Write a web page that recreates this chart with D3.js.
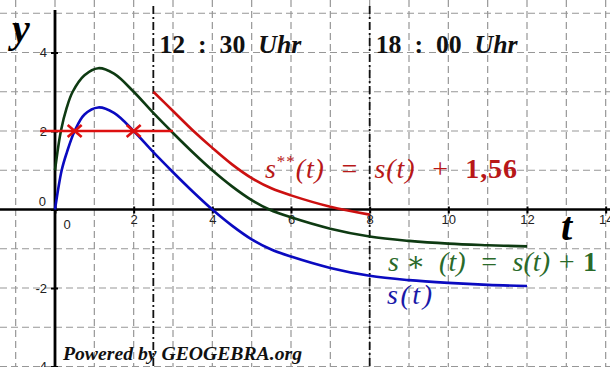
<!DOCTYPE html>
<meta charset="utf-8">
<script src="https://d3js.org/d3.v7.min.js"></script>
<style>
  body { margin: 0; background: #fff; }
  .grid line { stroke: #979797; stroke-width: 1.2; stroke-dasharray: 7,4; }
  .tick text { font-family: "Liberation Sans", Arial, sans-serif; font-size: 13px; fill: #222; }
  .math { font-family: "Liberation Serif", "DejaVu Serif", serif; font-style: italic; }
</style>
<body></body>
<script>
// values
var sT   = [0, 0.17, 0.3, 0.5, 0.75, 1.1, 1.5, 2, 2.5, 3, 3.5, 4, 4.5, 5, 5.5, 6, 7, 8, 9, 10, 11, 12];
var sVal = [0, 1.0, 1.45, 2.0, 2.42, 2.6, 2.46, 2.0, 1.46, 0.95, 0.46, 0, -0.41, -0.76, -1.02, -1.2, -1.49, -1.69, -1.8, -1.87, -1.92, -1.95];

var starT   = [0, 0.15, 0.3, 0.45, 0.75, 1.1, 1.5, 2, 2.5, 3, 3.5, 4, 4.5, 5, 5.45, 6, 7, 8, 9, 10, 11, 12];
var starVal = [1, 2.0, 2.6, 3.0, 3.42, 3.6, 3.46, 3.0, 2.46, 1.95, 1.46, 1.0, 0.59, 0.24, 0, -0.2, -0.49, -0.69, -0.8, -0.87, -0.91, -0.94];

var dblT   = [2.5, 3, 3.5, 4, 4.5, 5, 5.5, 6, 7, 8];
var dblVal = [3.0, 2.51, 2.02, 1.57, 1.15, 0.8, 0.54, 0.36, 0.07, -0.13];

var crossT = [0.5, 2.0];   // s(t) = 2
var level  = 2;
var levelT = [-0.38, 3.0];

var xTicks = [0, 2, 4, 6, 8, 10, 12, 14];
var yTicks = [-4, -2, 0, 2, 4];
var timeMarks = [{t: 2.5, label: "12\u2002:\u200230\u2002"}, {t: 8, label: "18\u2002:\u200200\u2002"}];

var width = 610, height = 367;

var x = d3.scaleLinear().domain([0, 12]).range([55, 527]);
var y = d3.scaleLinear().domain([0, 4]).range([209.5, 52.5]);

var svg = d3.select("body").append("svg")
    .attr("width", width)
    .attr("height", height);

// dashed grid, one line per unit
var gx = d3.range(-1, 15), gy = d3.range(-4, 6);
var grid = svg.append("g").attr("class", "grid");
grid.selectAll(".v").data(gx).enter().append("line")
    .attr("x1", d => x(d)).attr("x2", d => x(d))
    .attr("y1", 0).attr("y2", height);
grid.selectAll(".h").data(gy).enter().append("line")
    .attr("x1", 0).attr("x2", width)
    .attr("y1", d => y(d)).attr("y2", d => y(d));

// axes
var xAxis = svg.append("g").attr("transform", "translate(0," + y(0) + ")")
    .call(d3.axisBottom(x).tickValues(xTicks).tickSize(4).tickSizeOuter(0).tickFormat(d => d === 0 ? "" : d));
xAxis.select(".domain").remove();
xAxis.selectAll(".tick line").attr("y1", -3).attr("stroke", "#000").attr("stroke-width", 2);
xAxis.selectAll(".tick text").attr("dy", "0.6em");

var yAxis = svg.append("g").attr("transform", "translate(" + x(0) + ",0)")
    .call(d3.axisLeft(y).tickValues(yTicks).tickSize(4).tickSizeOuter(0).tickFormat(d => d === 0 ? "" : d));
yAxis.select(".domain").remove();
yAxis.selectAll(".tick line").attr("x1", 3).attr("stroke", "#000").attr("stroke-width", 2);
yAxis.selectAll(".tick text").attr("x", -8);

svg.append("line").attr("x1", 0).attr("x2", width).attr("y1", y(0)).attr("y2", y(0))
    .attr("stroke", "#000").attr("stroke-width", 2.6);
svg.append("line").attr("x1", x(0)).attr("x2", x(0)).attr("y1", 10).attr("y2", height)
    .attr("stroke", "#000").attr("stroke-width", 2.8);

// origin labels, GeoGebra style
svg.append("text").attr("x", x(0) + 12).attr("y", y(0) + 19).attr("text-anchor", "middle")
    .style("font-family", "Liberation Sans, Arial, sans-serif").style("font-size", "13px").attr("fill", "#222").text("0");
svg.append("text").attr("x", x(0) - 9).attr("y", y(0) - 4).attr("text-anchor", "end")
    .style("font-family", "Liberation Sans, Arial, sans-serif").style("font-size", "13px").attr("fill", "#222").text("0");

// time marks
svg.selectAll(".tm").data(timeMarks).enter().append("line")
    .attr("x1", d => x(d.t)).attr("x2", d => x(d.t))
    .attr("y1", 6).attr("y2", height)
    .attr("stroke", "#111").attr("stroke-width", 1.8)
    .attr("stroke-dasharray", "8,3,2,3");
var tmText = svg.selectAll(".tmt").data(timeMarks).enter().append("text")
    .attr("x", d => x(d.t) + 6).attr("y", 53)
    .style("font-family", "Liberation Serif, serif").style("font-size", "25px")
    .style("font-weight", "bold").attr("fill", "#111")
    .attr("textLength", 142).attr("lengthAdjust", "spacingAndGlyphs");
tmText.append("tspan").text(d => d.label);
tmText.append("tspan").style("font-style", "italic").text("Uhr");

// curves
var line = d3.line().x(d => x(d[0])).y(d => y(d[1])).curve(d3.curveCatmullRom.alpha(0.5));

var curves = [
  {t: starT, v: starVal, color: "#0e3a12"},
  {t: sT, v: sVal, color: "#0a0ac0"},
  {t: dblT, v: dblVal, color: "#cc1010"}
];
svg.selectAll(".curve").data(curves).enter().append("path")
    .attr("d", c => line(c.t.map((t, i) => [t, c.v[i]])))
    .attr("fill", "none")
    .attr("stroke", c => c.color)
    .attr("stroke-width", 2.6);

// level line y = 2 with crosses
svg.append("line")
    .attr("x1", x(levelT[0])).attr("x2", x(levelT[1]))
    .attr("y1", y(level)).attr("y2", y(level))
    .attr("stroke", "#dd1010").attr("stroke-width", 2.6);
svg.selectAll(".cross").data(crossT).enter().append("path")
    .attr("d", "M-7,-6L7,6M-7,6L7,-6")
    .attr("transform", d => "translate(" + x(d) + "," + y(level) + ")")
    .attr("fill", "none").attr("stroke", "#dd1010").attr("stroke-width", 2.6);

// axis names
svg.append("text").attr("class", "math").attr("x", 12).attr("y", 42)
    .style("font-size", "40px").style("font-weight", "bold").text("y");
svg.append("text").attr("class", "math").attr("x", 561).attr("y", 240)
    .style("font-size", "40px").style("font-weight", "bold").text("t");

// function labels
var lab1 = svg.append("text").attr("class", "math")
    .attr("x", 265).attr("y", 178).attr("fill", "#b81818")
    .style("font-size", "28px").attr("textLength", 252).attr("lengthAdjust", "spacing");
lab1.append("tspan").text("s");
lab1.append("tspan").attr("dy", -11).style("font-size", "17px").style("font-style", "normal").text("**");
lab1.append("tspan").attr("dy", 11).text("(t)\u2002=\u2002s(t)\u2002+\u2002");
lab1.append("tspan").style("font-style", "normal").style("font-weight", "bold").text("1,56");

var lab2 = svg.append("text").attr("class", "math")
    .attr("x", 388).attr("y", 271).attr("fill", "#2a6a2a")
    .style("font-size", "28px").attr("textLength", 209).attr("lengthAdjust", "spacing");
lab2.append("tspan").text("s ");
lab2.append("tspan").style("font-style", "normal").text("\u2217\u2002");
lab2.append("tspan").text("(t)\u2002=\u2002s(t) + ");
lab2.append("tspan").style("font-style", "normal").style("font-weight", "bold").text("1");

svg.append("text").attr("class", "math")
    .attr("x", 387).attr("y", 304).attr("fill", "#1a1aa8")
    .style("font-size", "28px").attr("textLength", 45).attr("lengthAdjust", "spacing")
    .text("s(t)");

// footer
svg.append("text").attr("x", 63).attr("y", 360)
    .style("font-family", "Liberation Serif, serif").style("font-size", "19px")
    .style("font-weight", "bold").style("font-style", "italic").attr("fill", "#111")
    .attr("textLength", 239).attr("lengthAdjust", "spacingAndGlyphs")
    .text("Powered by GEOGEBRA.org");
</script>
</html>
